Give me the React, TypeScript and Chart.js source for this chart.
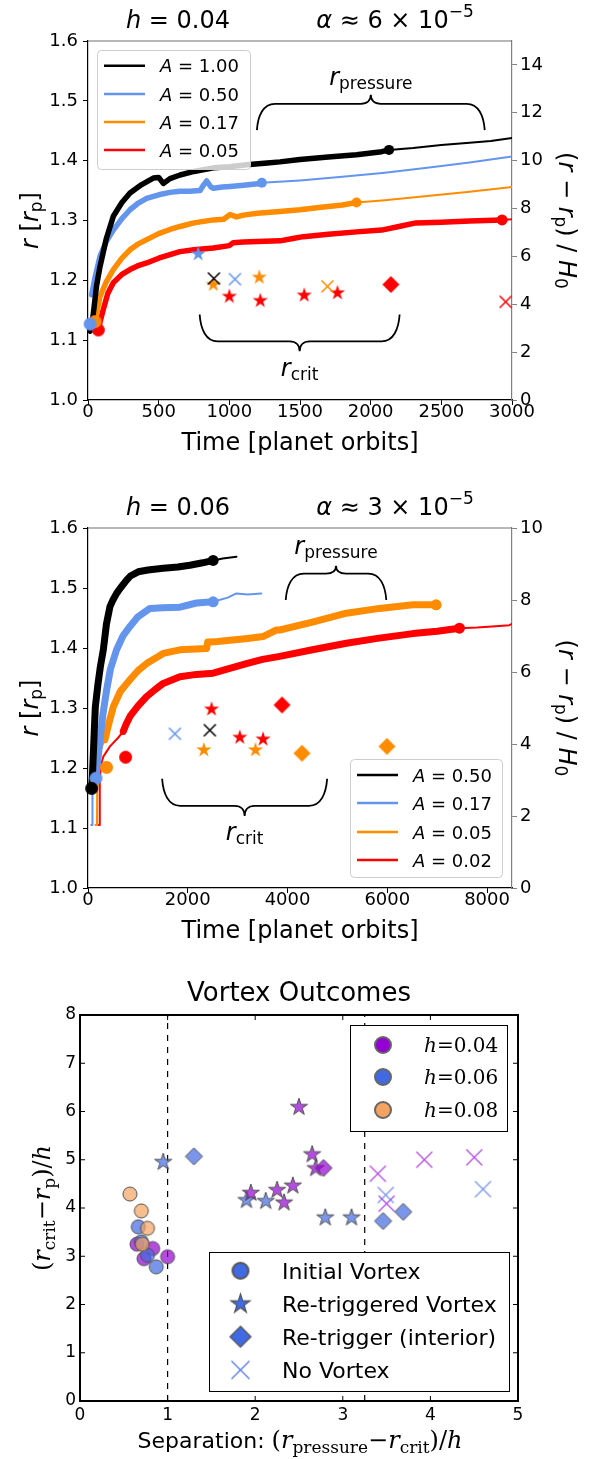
import React, { useEffect, useRef } from 'react';
import { Chart, registerables } from 'chart.js';

Chart.register(...registerables);

type Pt = [number, number];

const SANS = 'DejaVu Sans';
const SERIF = 'DejaVu Serif';
const SERIES_COLORS = ['#000000', '#6495ED', '#FF8C00', '#FF0000'];

// ================= Panel 1 : h = 0.04 =================
const P1_LABELS = ['1.00', '0.50', '0.17', '0.05'];
const P1_X_TICKS = [0, 500, 1000, 1500, 2000, 2500, 3000];
const P1_Y_TICKS = [1.0, 1.1, 1.2, 1.3, 1.4, 1.5, 1.6];
const P1_Y2_TICKS = [0, 2, 4, 6, 8, 10, 12, 14];

const P1_K_THICK_T = [15, 25, 38, 60, 85, 130, 179, 240, 297, 380, 462, 500, 533, 580, 651, 750, 887, 1000, 1123, 1268, 1358, 1500, 1700, 1900, 2078, 2130];
const P1_K_THICK_R = [1.115, 1.12, 1.145, 1.19, 1.223, 1.27, 1.307, 1.33, 1.346, 1.36, 1.371, 1.372, 1.362, 1.37, 1.376, 1.382, 1.388, 1.39, 1.393, 1.396, 1.398, 1.402, 1.406, 1.41, 1.415, 1.418];
const P1_K_THIN_T = [2130, 2300, 2500, 2700, 2850, 3000];
const P1_K_THIN_R = [1.418, 1.421, 1.426, 1.43, 1.433, 1.438];

const P1_B_THICK_T = [26, 50, 85, 130, 179, 240, 297, 350, 415, 500, 580, 651, 720, 793, 820, 840, 870, 887, 950, 1005, 1100, 1217, 1230];
const P1_B_THICK_R = [1.176, 1.205, 1.24, 1.265, 1.284, 1.303, 1.318, 1.328, 1.337, 1.343, 1.347, 1.349, 1.349, 1.35, 1.36, 1.366, 1.356, 1.354, 1.356, 1.357, 1.359, 1.362, 1.363];
const P1_B_THIN_T = [1230, 1500, 1800, 2100, 2400, 2700, 3000];
const P1_B_THIN_R = [1.363, 1.367, 1.373, 1.38, 1.388, 1.397, 1.407];

const P1_O_THICK_T = [50, 85, 130, 179, 240, 297, 350, 415, 500, 580, 651, 750, 887, 960, 1005, 1050, 1100, 1200, 1358, 1500, 1650, 1800, 1900];
const P1_O_THICK_R = [1.131, 1.173, 1.198, 1.218, 1.237, 1.251, 1.26, 1.268, 1.278, 1.285, 1.29, 1.296, 1.301, 1.302, 1.31, 1.306, 1.309, 1.312, 1.315, 1.318, 1.322, 1.326, 1.33];
const P1_O_THIN_T = [1900, 2100, 2400, 2700, 3000];
const P1_O_THIN_R = [1.33, 1.334, 1.341, 1.348, 1.356];

const P1_R_THICK_T = [73, 90, 108, 140, 179, 240, 297, 350, 415, 500, 580, 651, 750, 887, 1000, 1028, 1100, 1200, 1358, 1450, 1523, 1700, 1900, 2078, 2200, 2320, 2500, 2700, 2930];
const P1_R_THICK_R = [1.117, 1.135, 1.151, 1.178, 1.196, 1.21, 1.218, 1.224, 1.229, 1.237, 1.243, 1.248, 1.251, 1.254, 1.258, 1.263, 1.264, 1.265, 1.266, 1.27, 1.273, 1.277, 1.281, 1.284, 1.29, 1.296, 1.297, 1.299, 1.301];
const P1_R_THIN_T = [2930, 3000];
const P1_R_THIN_R = [1.301, 1.302];

// outcome markers per series (black, blue, orange, red): [time, r]
const P1_INITIAL: Pt[][] = [[], [[15, 1.127]], [[50, 1.131]], [[73, 1.117]]];
const P1_RETRIG: Pt[][] = [[], [[780, 1.244]], [[887, 1.193], [1212, 1.205]], [[1000, 1.173], [1219, 1.166], [1530, 1.175], [1765, 1.179]]];
const P1_INTERIOR: Pt[][] = [[], [], [], [[2143, 1.193]]];
const P1_NONE: Pt[][] = [[[891, 1.203]], [[1040, 1.202]], [[1694, 1.19]], [[2955, 1.164]]];

// ================= Panel 2 : h = 0.06 =================
const P2_LABELS = ['0.50', '0.17', '0.05', '0.02'];
const P2_X_TICKS = [0, 2000, 4000, 6000, 8000];
const P2_Y_TICKS = [1.0, 1.1, 1.2, 1.3, 1.4, 1.5, 1.6];
const P2_Y2_TICKS = [0, 2, 4, 6, 8, 10];

const P2_K_START_T: number[] = [];
const P2_K_START_R: number[] = [];
const P2_K_THICK_T = [73, 90, 107, 125, 147, 200, 250, 307, 370, 440, 500, 573, 650, 774, 850, 1007, 1200, 1508, 1800, 2042, 2300, 2509];
const P2_K_THICK_R = [1.166, 1.19, 1.224, 1.26, 1.302, 1.34, 1.37, 1.397, 1.44, 1.469, 1.48, 1.491, 1.5, 1.513, 1.52, 1.527, 1.53, 1.533, 1.535, 1.538, 1.542, 1.546];
const P2_K_THIN_T = [2509, 2700, 2976];
const P2_K_THIN_R = [1.546, 1.549, 1.552];

const P2_B_START_T = [65, 87, 90, 110, 160];
const P2_B_START_R = [1.105, 1.105, 1.16, 1.178, 1.183];
const P2_B_THICK_T = [160, 200, 240, 300, 373, 450, 573, 700, 841, 1000, 1241, 1500, 1842, 2175, 2509];
const P2_B_THICK_R = [1.183, 1.215, 1.247, 1.29, 1.33, 1.365, 1.397, 1.42, 1.436, 1.452, 1.466, 1.467, 1.468, 1.475, 1.477];
const P2_B_THIN_T = [2509, 2800, 2976, 3200, 3476];
const P2_B_THIN_R = [1.477, 1.484, 1.491, 1.489, 1.491];

const P2_O_START_T = [150, 180, 185, 200, 240, 300, 340];
const P2_O_START_R = [1.105, 1.105, 1.17, 1.2, 1.225, 1.24, 1.247];
const P2_O_THICK_T = [340, 420, 507, 650, 841, 1000, 1174, 1508, 1842, 2376, 2400, 2442, 2600, 2842, 3200, 3509, 3776, 3844, 4500, 5180, 5846, 6513, 6980];
const P2_O_THICK_R = [1.247, 1.275, 1.302, 1.328, 1.347, 1.362, 1.374, 1.391, 1.397, 1.399, 1.41, 1.41, 1.411, 1.413, 1.416, 1.419, 1.43, 1.43, 1.443, 1.458, 1.466, 1.472, 1.472];
const P2_O_THIN_T: number[] = [];
const P2_O_THIN_R: number[] = [];

const P2_R_START_T = [215, 232, 236, 260, 307, 440, 600, 707];
const P2_R_START_R = [1.105, 1.105, 1.18, 1.205, 1.219, 1.236, 1.25, 1.261];
const P2_R_THICK_T = [707, 760, 841, 1000, 1174, 1350, 1508, 1842, 2175, 2509, 2842, 3176, 3500, 3843, 4500, 5180, 5800, 6513, 7000, 7447];
const P2_R_THICK_R = [1.261, 1.272, 1.286, 1.303, 1.319, 1.331, 1.341, 1.352, 1.356, 1.358, 1.366, 1.374, 1.381, 1.386, 1.397, 1.408, 1.416, 1.424, 1.428, 1.433];
const P2_R_THIN_T = [7447, 7800, 8100, 8448, 8500];
const P2_R_THIN_R = [1.433, 1.434, 1.436, 1.438, 1.44];

const P2_INITIAL: Pt[][] = [[[73, 1.166]], [[160, 1.183]], [[373, 1.201]], [[754, 1.218]]];
const P2_RETRIG: Pt[][] = [[], [], [[2322, 1.23], [3357, 1.23]], [[2476, 1.298], [3043, 1.251], [3510, 1.248]]];
const P2_INTERIOR: Pt[][] = [[], [], [[4290, 1.2245], [5994, 1.236]], [[3890, 1.305]]];
const P2_NONE: Pt[][] = [[[2442, 1.263]], [[1742, 1.257]], [], []];

// ================= Panel 3 : Vortex Outcomes =================
const V_X_TICKS = [0, 1, 2, 3, 4, 5];
const V_Y_TICKS = [0, 1, 2, 3, 4, 5, 6, 7, 8];
const V_SEPARATORS = [1, 3.25];
const V_H_LABELS = ['0.04', '0.06', '0.08'];
const V_OUTCOME_LABELS = ['Initial Vortex', 'Re-triggered Vortex', 'Re-trigger (interior)', 'No Vortex'];

const V_H04_INITIAL: Pt[] = [[0.65, 3.25], [0.83, 3.16], [0.73, 2.95], [1.0, 2.99]];
const V_H04_RETRIG: Pt[] = [[2.5, 6.09], [2.65, 5.11], [2.69, 4.82], [2.43, 4.46], [2.25, 4.37], [1.95, 4.31], [2.33, 4.11]];
const V_H04_INTERIOR: Pt[] = [[2.78, 4.83]];
const V_H04_NONE: Pt[] = [[3.4, 4.71], [3.93, 5.0], [4.5, 5.05], [3.5, 4.09]];

const V_H06_INITIAL: Pt[] = [[0.665, 3.61], [0.7, 3.3], [0.77, 3.02], [0.87, 2.78]];
const V_H06_RETRIG: Pt[] = [[0.95, 4.95], [1.9, 4.16], [2.12, 4.14], [2.8, 3.8], [3.1, 3.8]];
const V_H06_INTERIOR: Pt[] = [[1.3, 5.07], [3.46, 3.73], [3.69, 3.92]];
const V_H06_NONE: Pt[] = [[3.49, 4.27], [4.6, 4.39]];

const V_H08_INITIAL: Pt[] = [[0.57, 4.29], [0.7, 3.94], [0.77, 3.58], [0.71, 3.25]];

// ================= helpers =================
const zip = (t: number[], r: number[]) => t.map((x, i) => ({ x, y: r[i] }));
const pts = (a: Pt[]) => a.map(([x, y]) => ({ x, y }));

type Shape = 'circle' | 'star' | 'diamond' | 'cross';
function makeMarker(shape: Shape, size: number, fill: string, edge: string | null, lw: number): HTMLCanvasElement {
  const dim = Math.ceil(size * 2 + lw * 2 + 4);
  const c = document.createElement('canvas');
  c.width = dim;
  c.height = dim;
  const g = c.getContext('2d')!;
  const cx = dim / 2;
  const cy = dim / 2;
  g.beginPath();
  if (shape === 'circle') {
    g.arc(cx, cy, size, 0, Math.PI * 2);
  } else if (shape === 'diamond') {
    g.moveTo(cx, cy - size);
    g.lineTo(cx + size, cy);
    g.lineTo(cx, cy + size);
    g.lineTo(cx - size, cy);
    g.closePath();
  } else if (shape === 'star') {
    for (let i = 0; i < 10; i++) {
      const a = -Math.PI / 2 + (i * Math.PI) / 5;
      const rr = i % 2 === 0 ? size : size * 0.382;
      const px = cx + rr * Math.cos(a);
      const py = cy + rr * Math.sin(a);
      if (i === 0) g.moveTo(px, py);
      else g.lineTo(px, py);
    }
    g.closePath();
  } else {
    g.moveTo(cx - size, cy - size);
    g.lineTo(cx + size, cy + size);
    g.moveTo(cx + size, cy - size);
    g.lineTo(cx - size, cy + size);
    g.strokeStyle = fill;
    g.lineWidth = lw;
    g.stroke();
    return c;
  }
  g.fillStyle = fill;
  g.fill();
  if (edge) {
    g.strokeStyle = edge;
    g.lineWidth = lw;
    g.stroke();
  }
  return c;
}

function markerDataset(data: Pt[], img: HTMLCanvasElement, order = 0) {
  return {
    data: pts(data),
    showLine: false,
    pointStyle: img,
    pointRadius: 4,
    pointHoverRadius: 4,
    clip: false as const,
    order,
  };
}

function lineDataset(t: number[], r: number[], color: string, width: number, endDot: number, order: number) {
  const n = t.length;
  return {
    data: zip(t, r),
    showLine: true,
    borderColor: color,
    backgroundColor: color,
    borderWidth: width,
    pointRadius: (c: any) => (endDot > 0 && c.dataIndex === n - 1 ? endDot : 0),
    pointHoverRadius: 0,
    pointBackgroundColor: color,
    pointBorderWidth: 0,
    tension: 0,
    borderCapStyle: 'round' as const,
    borderJoinStyle: 'round' as const,
    fill: false,
    order,
  };
}

type Seg = { t: string; s: number; it?: boolean; dy?: number; serif?: boolean };
const segFont = (g: Seg) => `${g.it ? 'italic ' : ''}${g.s}px "${g.serif ? SERIF : SANS}"`;

function drawRich(ctx: CanvasRenderingContext2D, segs: Seg[], x: number, y: number, rot = 0, align: 'center' | 'left' = 'center') {
  ctx.save();
  ctx.translate(x, y);
  if (rot) ctx.rotate(rot);
  ctx.textBaseline = 'alphabetic';
  ctx.textAlign = 'left';
  ctx.fillStyle = '#000';
  let w = 0;
  for (const g of segs) {
    ctx.font = segFont(g);
    w += ctx.measureText(g.t).width;
  }
  let cx = align === 'center' ? -w / 2 : 0;
  for (const g of segs) {
    ctx.font = segFont(g);
    ctx.fillText(g.t, cx, g.dy || 0);
    cx += ctx.measureText(g.t).width;
  }
  ctx.restore();
}

function brace(ctx: CanvasRenderingContext2D, x1: number, x2: number, yT: number, yL: number, yP: number) {
  const xm = (x1 + x2) / 2;
  const cw = 18;
  const k = 10;
  ctx.beginPath();
  ctx.moveTo(x1, yT);
  ctx.bezierCurveTo(x1 + 1, yT + (yL - yT) * 0.55, x1 + cw * 0.35, yL, x1 + cw, yL);
  ctx.lineTo(xm - k, yL);
  ctx.bezierCurveTo(xm - k * 0.35, yL, xm, yL + (yP - yL) * 0.4, xm, yP);
  ctx.bezierCurveTo(xm, yL + (yP - yL) * 0.4, xm + k * 0.35, yL, xm + k, yL);
  ctx.lineTo(x2 - cw, yL);
  ctx.bezierCurveTo(x2 - cw * 0.35, yL, x2 - 1, yT + (yL - yT) * 0.55, x2, yT);
  ctx.stroke();
}

type BraceSpec = { t1: number; t2: number; tip: number; line: number; point: number; textR: number; sub: string };

const P1_BRACES: BraceSpec[] = [
  { t1: 1195, t2: 2807, tip: 1.451, line: 1.495, point: 1.51, textR: 1.527, sub: 'pressure' },
  { t1: 790, t2: 2205, tip: 1.143, line: 1.098, point: 1.0815, textR: 1.0396, sub: 'crit' },
];
const P2_BRACES: BraceSpec[] = [
  { t1: 3964, t2: 5980, tip: 1.48, line: 1.524, point: 1.537, textR: 1.557, sub: 'pressure' },
  { t1: 1486, t2: 4794, tip: 1.182, line: 1.137, point: 1.12, textR: 1.08, sub: 'crit' },
];

const Y_TITLE: Seg[] = [
  { t: 'r', s: 24, it: true },
  { t: ' [', s: 24 },
  { t: 'r', s: 24, it: true },
  { t: 'p', s: 17, dy: 4 },
  { t: ']', s: 24 },
];
const Y2_TITLE: Seg[] = [
  { t: '(', s: 24 },
  { t: 'r', s: 24, it: true },
  { t: ' − ', s: 24 },
  { t: 'r', s: 24, it: true },
  { t: 'p', s: 17, dy: 4 },
  { t: ') / ', s: 24 },
  { t: 'H', s: 24, it: true },
  { t: '0', s: 17, dy: 4 },
];

type LinePanelCfg = {
  h: string;
  alpha: string;
  braces: BraceSpec[];
  labels: string[];
  legendBox: [number, number, number, number];
  legendRows: number[];
};

function drawLinePanel(chart: any, cfg: LinePanelCfg) {
  const ctx: CanvasRenderingContext2D = chart.ctx;
  const a = chart.chartArea;
  const X = chart.scales.x;
  const Y = chart.scales.y;
  ctx.save();
  ctx.strokeStyle = '#707070';
  ctx.lineWidth = 1.2;
  ctx.beginPath();
  ctx.moveTo(a.left, a.top);
  ctx.lineTo(a.right, a.top);
  ctx.stroke();

  drawRich(ctx, [{ t: 'h', s: 24, it: true }, { t: ' = ' + cfg.h, s: 24 }], 178, a.top - 13);
  drawRich(ctx, [{ t: 'α', s: 24, it: true }, { t: ' ≈ ' + cfg.alpha + ' × 10', s: 24 }, { t: '−5', s: 17, dy: -11 }], 395, a.top - 13);

  drawRich(ctx, [{ t: 'Time [planet orbits]', s: 24 }], (a.left + a.right) / 2, a.bottom + 50);
  drawRich(ctx, Y_TITLE, 38, (a.top + a.bottom) / 2, -Math.PI / 2);
  drawRich(ctx, Y2_TITLE, 559, (a.top + a.bottom) / 2, Math.PI / 2);

  ctx.strokeStyle = '#000';
  ctx.lineWidth = 1.8;
  for (const b of cfg.braces) {
    brace(ctx, X.getPixelForValue(b.t1), X.getPixelForValue(b.t2), Y.getPixelForValue(b.tip), Y.getPixelForValue(b.line), Y.getPixelForValue(b.point));
    drawRich(ctx, [{ t: 'r', s: 24, it: true }, { t: b.sub, s: 17, dy: 4 }], X.getPixelForValue((b.t1 + b.t2) / 2), Y.getPixelForValue(b.textR));
  }

  const [l, t, r, bt] = cfg.legendBox;
  ctx.beginPath();
  (ctx as any).roundRect(l + 0.5, t + 0.5, r - l, bt - t, 4);
  ctx.fillStyle = 'rgba(255,255,255,0.8)';
  ctx.fill();
  ctx.strokeStyle = '#cccccc';
  ctx.lineWidth = 1;
  ctx.stroke();
  cfg.legendRows.forEach((y, i) => {
    ctx.strokeStyle = SERIES_COLORS[i];
    ctx.lineWidth = 2.5;
    ctx.beginPath();
    ctx.moveTo(l + 7, y);
    ctx.lineTo(l + 48, y);
    ctx.stroke();
    drawRich(ctx, [{ t: 'A', s: 18, it: true }, { t: ' = ' + cfg.labels[i], s: 18 }], l + 63, y + 6.5, 0, 'left');
  });
  ctx.restore();
}

function lineAxes(xMax: number, xTicks: number[], yTicks: number[], y2Max: number, y2Ticks: number[], xHeight: number) {
  const tickFont = { family: SANS, size: 18 };
  return {
    x: {
      type: 'linear' as const,
      min: 0,
      max: xMax,
      afterBuildTicks: (s: any) => {
        s.ticks = xTicks.map((v) => ({ value: v }));
      },
      ticks: { font: tickFont, color: '#000', padding: -3, maxRotation: 0, autoSkip: false, callback: (v: any) => String(v) },
      grid: { display: true, drawOnChartArea: false, drawTicks: true, tickLength: 5, color: '#000', tickWidth: 1 },
      border: { display: true, color: '#000', width: 1.2 },
      afterFit: (s: any) => {
        s.height = xHeight;
      },
    },
    y: {
      type: 'linear' as const,
      position: 'left' as const,
      min: 1.0,
      max: 1.6,
      afterBuildTicks: (s: any) => {
        s.ticks = yTicks.map((v) => ({ value: v }));
      },
      ticks: { font: tickFont, color: '#000', padding: 5, callback: (v: any) => Number(v).toFixed(1) },
      grid: { display: true, drawOnChartArea: false, drawTicks: true, tickLength: 5, color: '#000', tickWidth: 1 },
      border: { display: true, color: '#000', width: 1.2 },
      afterFit: (s: any) => {
        s.width = 88;
      },
    },
    y2: {
      type: 'linear' as const,
      position: 'right' as const,
      min: 0,
      max: y2Max,
      afterBuildTicks: (s: any) => {
        s.ticks = y2Ticks.map((v) => ({ value: v }));
      },
      ticks: { font: tickFont, color: '#000', padding: 3, callback: (v: any) => String(v) },
      grid: { display: true, drawOnChartArea: false, drawTicks: true, tickLength: 5, color: '#808080', tickWidth: 1 },
      border: { display: true, color: '#808080', width: 1.2 },
      afterFit: (s: any) => {
        s.width = 84;
      },
    },
  };
}

function seriesMarkers(initial: Pt[][], retrig: Pt[][], interior: Pt[][], none: Pt[][]) {
  const ds: any[] = [];
  for (let i = 0; i < 4; i++) {
    const col = SERIES_COLORS[i];
    if (initial[i].length) ds.push(markerDataset(initial[i], makeMarker('circle', 6.5, col, null, 0)));
    if (retrig[i].length) ds.push(markerDataset(retrig[i], makeMarker('star', 8, col, null, 0)));
    if (interior[i].length) ds.push(markerDataset(interior[i], makeMarker('diamond', 8.5, col, null, 0)));
    if (none[i].length) ds.push(markerDataset(none[i], makeMarker('cross', 6, col, null, 1.5)));
  }
  return ds;
}

const baseOptions = {
  animation: false as const,
  responsive: false,
  maintainAspectRatio: false,
  events: [] as any[],
  plugins: { legend: { display: false }, tooltip: { enabled: false }, title: { display: false } },
};

function buildPanel1(canvas: HTMLCanvasElement) {
  const datasets: any[] = [
    ...seriesMarkers(P1_INITIAL, P1_RETRIG, P1_INTERIOR, P1_NONE),
    lineDataset(P1_K_THICK_T, P1_K_THICK_R, SERIES_COLORS[0], 5.5, 5, 1),
    lineDataset(P1_B_THICK_T, P1_B_THICK_R, SERIES_COLORS[1], 5.5, 5, 1),
    lineDataset(P1_O_THICK_T, P1_O_THICK_R, SERIES_COLORS[2], 5.5, 5, 1),
    lineDataset(P1_R_THICK_T, P1_R_THICK_R, SERIES_COLORS[3], 5.5, 5.5, 1),
    lineDataset(P1_K_THIN_T, P1_K_THIN_R, SERIES_COLORS[0], 2, 0, 2),
    lineDataset(P1_B_THIN_T, P1_B_THIN_R, SERIES_COLORS[1], 2, 0, 2),
    lineDataset(P1_O_THIN_T, P1_O_THIN_R, SERIES_COLORS[2], 2, 0, 2),
    lineDataset(P1_R_THIN_T, P1_R_THIN_R, SERIES_COLORS[3], 2, 0, 2),
  ];
  const cfg: LinePanelCfg = {
    h: '0.04',
    alpha: '6',
    braces: P1_BRACES,
    labels: P1_LABELS,
    legendBox: [97, 50, 250, 169],
    legendRows: [65.7, 94, 122, 150],
  };
  return new Chart(canvas, {
    type: 'scatter',
    data: { datasets },
    options: {
      ...baseOptions,
      layout: { padding: { top: 41, left: 0, right: 0, bottom: 0 } },
      scales: lineAxes(3000, P1_X_TICKS, P1_Y_TICKS, 15, P1_Y2_TICKS, 70) as any,
    } as any,
    plugins: [{ id: 'p1deco', afterDraw: (c: any) => drawLinePanel(c, cfg) }],
  });
}

function buildPanel2(canvas: HTMLCanvasElement) {
  const datasets: any[] = [
    ...seriesMarkers(P2_INITIAL, P2_RETRIG, P2_INTERIOR, P2_NONE),
    lineDataset(P2_K_THICK_T, P2_K_THICK_R, SERIES_COLORS[0], 7, 5.5, 1),
    lineDataset(P2_B_THICK_T, P2_B_THICK_R, SERIES_COLORS[1], 7, 5.5, 1),
    lineDataset(P2_O_THICK_T, P2_O_THICK_R, SERIES_COLORS[2], 7, 5.5, 1),
    lineDataset(P2_R_THICK_T, P2_R_THICK_R, SERIES_COLORS[3], 7, 5.5, 1),
    lineDataset(P2_K_START_T, P2_K_START_R, SERIES_COLORS[0], 2, 0, 2),
    lineDataset(P2_B_START_T, P2_B_START_R, SERIES_COLORS[1], 2, 0, 2),
    lineDataset(P2_O_START_T, P2_O_START_R, SERIES_COLORS[2], 2, 0, 2),
    lineDataset(P2_R_START_T, P2_R_START_R, SERIES_COLORS[3], 2, 0, 2),
    lineDataset(P2_K_THIN_T, P2_K_THIN_R, SERIES_COLORS[0], 2, 0, 2),
    lineDataset(P2_B_THIN_T, P2_B_THIN_R, SERIES_COLORS[1], 2, 0, 2),
    lineDataset(P2_O_THIN_T, P2_O_THIN_R, SERIES_COLORS[2], 2, 0, 2),
    lineDataset(P2_R_THIN_T, P2_R_THIN_R, SERIES_COLORS[3], 2, 0, 2),
  ];
  const cfg: LinePanelCfg = {
    h: '0.06',
    alpha: '3',
    braces: P2_BRACES,
    labels: P2_LABELS,
    legendBox: [350, 289, 502, 407],
    legendRows: [305, 333, 362, 390],
  };
  return new Chart(canvas, {
    type: 'scatter',
    data: { datasets },
    options: {
      ...baseOptions,
      layout: { padding: { top: 58, left: 0, right: 0, bottom: 0 } },
      scales: lineAxes(8500, P2_X_TICKS, P2_Y_TICKS, 10, P2_Y2_TICKS, 62) as any,
    } as any,
    plugins: [{ id: 'p2deco', afterDraw: (c: any) => drawLinePanel(c, cfg) }],
  });
}

const V_FILL = ['rgba(148,0,211,0.7)', 'rgba(65,105,225,0.7)', 'rgba(244,164,96,0.7)'];
const V_SOLID = ['#9400D3', '#4169E1', '#F4A460'];
const V_EDGE = '#505050';

function buildPanel3(canvas: HTMLCanvasElement) {
  const circ = (i: number) => makeMarker('circle', 7, V_FILL[i], V_EDGE, 1);
  const star = (i: number) => makeMarker('star', 9, V_FILL[i], V_EDGE, 1);
  const dia = (i: number) => makeMarker('diamond', 8.5, V_FILL[i], V_EDGE, 1);
  const crs = (i: number) => makeMarker('cross', 8, V_FILL[i], null, 1.3);
  const datasets: any[] = [
    markerDataset(V_H08_INITIAL, circ(2), 0),
    markerDataset(V_H06_INITIAL, circ(1), 1),
    markerDataset(V_H06_RETRIG, star(1), 1),
    markerDataset(V_H06_INTERIOR, dia(1), 1),
    markerDataset(V_H06_NONE, crs(1), 1),
    markerDataset(V_H04_INITIAL, circ(0), 2),
    markerDataset(V_H04_INTERIOR, dia(0), 0),
    markerDataset(V_H04_RETRIG, star(0), 0),
    markerDataset(V_H04_NONE, crs(0), 2),
    ...V_SEPARATORS.map((v) => ({
      data: [{ x: v, y: 0 }, { x: v, y: 8 }],
      showLine: true,
      borderColor: '#000',
      borderWidth: 1.2,
      borderDash: [6, 6],
      pointRadius: 0,
      order: 5,
    })),
  ];
  const legendH = [0, 1, 2].map((i) => makeMarker('circle', 8, V_SOLID[i], '#666666', 2));
  const legendO = [
    makeMarker('circle', 8, V_SOLID[1], '#555555', 2),
    makeMarker('star', 10, V_SOLID[1], '#555555', 1.2),
    makeMarker('diamond', 10.5, V_SOLID[1], '#555555', 1.2),
    makeMarker('cross', 9, 'rgba(65,105,225,0.85)', null, 1.4),
  ];
  const tickFont = { family: SANS, size: 17 };
  return new Chart(canvas, {
    type: 'scatter',
    data: { datasets },
    options: {
      ...baseOptions,
      layout: { padding: { top: 65, left: 0, right: 78, bottom: 0 } },
      scales: {
        x: {
          type: 'linear',
          min: 0,
          max: 5,
          afterBuildTicks: (s: any) => {
            s.ticks = V_X_TICKS.map((v) => ({ value: v }));
          },
          ticks: { font: tickFont, color: '#000', padding: 4, maxRotation: 0, autoSkip: false, callback: (v: any) => String(v) },
          grid: { display: false, drawTicks: false },
          border: { display: false },
          afterFit: (s: any) => {
            s.height = 58;
          },
        },
        y: {
          type: 'linear',
          min: 0,
          max: 8,
          afterBuildTicks: (s: any) => {
            s.ticks = V_Y_TICKS.map((v) => ({ value: v }));
          },
          ticks: { font: tickFont, color: '#000', padding: 4, callback: (v: any) => String(v) },
          grid: { display: false, drawTicks: false },
          border: { display: false },
          afterFit: (s: any) => {
            s.width = 80;
          },
        },
      },
    } as any,
    plugins: [
      {
        id: 'p3deco',
        afterDraw: (chart: any) => {
          const ctx: CanvasRenderingContext2D = chart.ctx;
          const a = chart.chartArea;
          const X = chart.scales.x;
          const Y = chart.scales.y;
          ctx.save();
          ctx.strokeStyle = '#000';
          ctx.lineWidth = 1;
          ctx.beginPath();
          for (const v of V_X_TICKS) {
            const px = X.getPixelForValue(v);
            ctx.moveTo(px, a.bottom);
            ctx.lineTo(px, a.bottom - 5);
            ctx.moveTo(px, a.top);
            ctx.lineTo(px, a.top + 5);
          }
          for (const v of V_Y_TICKS) {
            const py = Y.getPixelForValue(v);
            ctx.moveTo(a.left, py);
            ctx.lineTo(a.left + 5, py);
            ctx.moveTo(a.right, py);
            ctx.lineTo(a.right - 5, py);
          }
          ctx.stroke();
          ctx.lineWidth = 2;
          ctx.strokeRect(a.left, a.top, a.right - a.left, a.bottom - a.top);

          drawRich(ctx, [{ t: 'Vortex Outcomes', s: 26 }], (a.left + a.right) / 2, 50.7);
          drawRich(
            ctx,
            [
              { t: 'Separation: ', s: 22 },
              { t: '(', s: 24, serif: true },
              { t: 'r', s: 24, serif: true, it: true },
              { t: 'pressure', s: 17, serif: true, dy: 5 },
              { t: '−', s: 24, serif: true },
              { t: 'r', s: 24, serif: true, it: true },
              { t: 'crit', s: 17, serif: true, dy: 5 },
              { t: ')/', s: 24, serif: true },
              { t: 'h', s: 24, serif: true, it: true },
            ],
            300,
            498
          );
          drawRich(
            ctx,
            [
              { t: '(', s: 24, serif: true },
              { t: 'r', s: 24, serif: true, it: true },
              { t: 'crit', s: 17, serif: true, dy: 5 },
              { t: '−', s: 24, serif: true },
              { t: 'r', s: 24, serif: true, it: true },
              { t: 'p', s: 17, serif: true, dy: 5 },
              { t: ')/', s: 24, serif: true },
              { t: 'h', s: 24, serif: true, it: true },
            ],
            50,
            (a.top + a.bottom) / 2,
            -Math.PI / 2
          );

          // legend 1 (disc aspect ratio)
          ctx.fillStyle = '#fff';
          ctx.fillRect(350, 75, 157, 106);
          ctx.strokeStyle = '#000';
          ctx.lineWidth = 1;
          ctx.strokeRect(350.5, 75.5, 157, 106);
          const rows1 = [95, 127, 160];
          rows1.forEach((y, i) => {
            const m = legendH[i];
            ctx.drawImage(m, 383 - m.width / 2, y - m.height / 2);
            drawRich(ctx, [{ t: 'h', s: 20, serif: true, it: true }, { t: '=' + V_H_LABELS[i], s: 20, serif: true }], 424, y + 7, 0, 'left');
          });

          // legend 2 (outcomes)
          ctx.fillStyle = '#fff';
          ctx.fillRect(209, 302, 300, 139);
          ctx.strokeStyle = '#000';
          ctx.lineWidth = 1;
          ctx.strokeRect(209.5, 302.5, 300, 139);
          const rows2 = [320.7, 354, 386.7, 420];
          rows2.forEach((y, i) => {
            const m = legendO[i];
            ctx.drawImage(m, 240.5 - m.width / 2, y - m.height / 2);
            drawRich(ctx, [{ t: V_OUTCOME_LABELS[i], s: 22 }], 282, y + 8, 0, 'left');
          });
          ctx.restore();
        },
      },
    ],
  });
}

export default function App() {
  const r1 = useRef<HTMLCanvasElement>(null);
  const r2 = useRef<HTMLCanvasElement>(null);
  const r3 = useRef<HTMLCanvasElement>(null);
  useEffect(() => {
    document.body.style.margin = '0';
    Chart.defaults.font.family = SANS;
    const c1 = buildPanel1(r1.current!);
    const c2 = buildPanel2(r2.current!);
    const c3 = buildPanel3(r3.current!);
    return () => {
      c1.destroy();
      c2.destroy();
      c3.destroy();
    };
  }, []);
  const cs = (top: number, h: number): React.CSSProperties => ({ position: 'absolute', left: 0, top, width: 596, height: h });
  return (
    <div style={{ position: 'absolute', left: 0, top: 0, width: 596, height: 1459, background: '#fff' }}>
      <canvas ref={r1} width={596} height={470} style={cs(0, 470)} />
      <canvas ref={r2} width={596} height={480} style={cs(470, 480)} />
      <canvas ref={r3} width={596} height={509} style={cs(950, 509)} />
    </div>
  );
}
